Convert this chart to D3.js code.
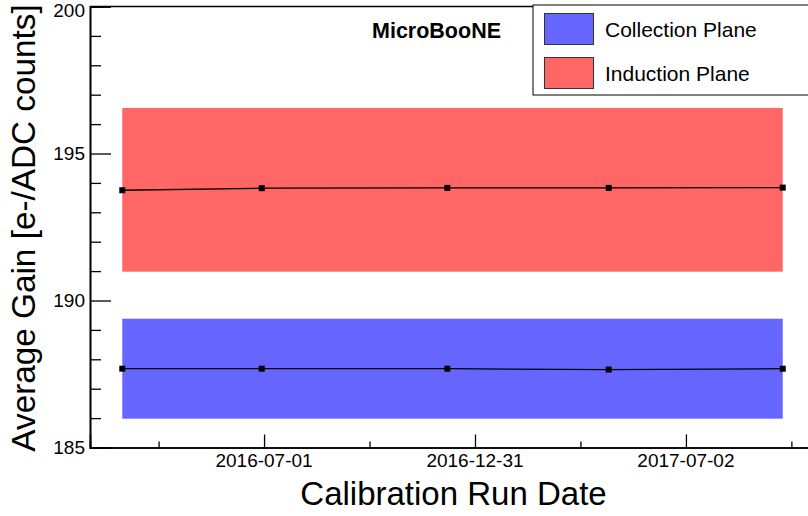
<!DOCTYPE html>
<html>
<head>
<meta charset="utf-8">
<script src="https://cdn.jsdelivr.net/npm/d3@7"></script>
<style>
  html, body { margin: 0; padding: 0; background: #fff; }
  svg { display: block; font-family: "Liberation Sans", Arial, Helvetica, sans-serif; }
</style>
</head>
<body>
<svg id="chart" width="808" height="516"></svg>
<script>
// ---- data ----
const runDates = ["2016-02-29", "2016-06-29", "2016-12-07", "2017-04-26", "2017-09-24"];
const collectionGain = [187.68, 187.68, 187.68, 187.65, 187.68];
const inductionGain = [193.75, 193.82, 193.83, 193.83, 193.84];
const collectionBand = [185.98, 189.38];
const inductionBand = [190.98, 196.55];
const xMajorTicks = ["2016-07-01", "2016-12-31", "2017-07-02"];
const xMinorTicks = ["2016-03-31T12:00", "2016-09-30T12:00", "2017-04-01T12:00", "2017-10-01T12:00"];
const yMajorTicks = [185, 190, 195, 200];
const yMinorTicks = [186, 187, 188, 189, 191, 192, 193, 194, 196, 197, 198, 199];
const xDomain = ["2016-02-01", "2017-11-04"];
const yDomain = [185, 200];
const seriesNames = ["Collection Plane", "Induction Plane"];
const seriesColors = ["#6666ff", "#ff6666"];

(function () {
const parse = s => new Date(s + (s.length === 10 ? "T00:00:00Z" : ":00Z"));

const svg = d3.select("#chart");
const pLeft = 90, pRight = 830, pTop = 6.5, pBottom = 447.5;

const x = d3.scaleUtc().domain(xDomain.map(parse)).range([pLeft, pRight]);
const y = d3.scaleLinear().domain(yDomain).range([pBottom, pTop]);

const dates = runDates.map(parse);

// bands
const bands = [
  { band: collectionBand, color: seriesColors[0] },
  { band: inductionBand, color: seriesColors[1] }
];
svg.append("g").selectAll("rect").data(bands).join("rect")
  .attr("x", x(d3.min(dates)))
  .attr("width", x(d3.max(dates)) - x(d3.min(dates)))
  .attr("y", d => y(d.band[1]))
  .attr("height", d => y(d.band[0]) - y(d.band[1]))
  .attr("fill", d => d.color);

// lines + markers
const series = [collectionGain, inductionGain];
const line = d3.line().x((d, i) => x(dates[i])).y(d => y(d));
series.forEach(vals => {
  svg.append("path").datum(vals)
    .attr("d", line)
    .attr("fill", "none")
    .attr("stroke", "#000")
    .attr("stroke-width", 1.3);
  svg.append("g").selectAll("rect").data(vals).join("rect")
    .attr("x", (d, i) => x(dates[i]) - 3)
    .attr("y", d => y(d) - 3)
    .attr("width", 6).attr("height", 6)
    .attr("fill", "#000");
});

// frame top
svg.append("line").attr("x1", pLeft).attr("x2", pRight).attr("y1", pTop).attr("y2", pTop)
  .attr("stroke", "#000").attr("stroke-width", 1.3);

// y axis
const yAxisMajor = d3.axisRight(y).tickValues(yMajorTicks).tickSize(21).tickFormat("");
const yAxisMinor = d3.axisRight(y).tickValues(yMinorTicks).tickSize(11).tickFormat("");
const gy = svg.append("g").attr("transform", `translate(${pLeft},0)`);
gy.call(yAxisMajor);
gy.append("g").call(yAxisMinor);
gy.selectAll(".domain").attr("stroke", "#000").attr("stroke-width", 1.6);
gy.selectAll(".tick line").attr("stroke", "#000").attr("stroke-width", 1.3);
svg.append("g").selectAll("text").data(yMajorTicks).join("text")
  .attr("x", pLeft - 5)
  .attr("y", d => Math.max(y(d), 10.5))
  .attr("dy", "0.36em")
  .attr("text-anchor", "end")
  .attr("font-size", 19)
  .attr("fill", "#000")
  .text(d => d);

// x axis
const xAxisMajor = d3.axisTop(x).tickValues(xMajorTicks.map(parse)).tickSize(13).tickFormat("");
const xAxisMinor = d3.axisTop(x).tickValues(xMinorTicks.map(parse)).tickSize(6).tickFormat("");
const gx = svg.append("g").attr("transform", `translate(0,${pBottom})`);
gx.call(xAxisMajor);
gx.append("g").call(xAxisMinor);
gx.selectAll(".domain").attr("stroke", "#000").attr("stroke-width", 1.6);
gx.selectAll(".tick line").attr("stroke", "#000").attr("stroke-width", 1.3);
svg.append("g").selectAll("text").data(xMajorTicks).join("text")
  .attr("x", d => x(parse(d)))
  .attr("y", 467)
  .attr("text-anchor", "middle")
  .attr("font-size", 19)
  .attr("fill", "#000")
  .text(d => d);

// axis titles
svg.append("text")
  .attr("transform", `translate(35,${(pTop + pBottom) / 2 + 1}) rotate(-90)`)
  .attr("text-anchor", "middle")
  .attr("font-size", 33.3)
  .attr("fill", "#000")
  .text("Average Gain [e-/ADC counts]");
svg.append("text")
  .attr("x", 453.5)
  .attr("y", 505)
  .attr("text-anchor", "middle")
  .attr("font-size", 33)
  .attr("fill", "#000")
  .text("Calibration Run Date");

// MicroBooNE label
svg.append("text")
  .attr("x", 372).attr("y", 38)
  .attr("font-size", 21.5)
  .attr("font-weight", "bold")
  .attr("fill", "#000")
  .text("MicroBooNE");

// legend
const lg = svg.append("g");
lg.append("rect").attr("x", 533).attr("y", 5).attr("width", 300).attr("height", 90)
  .attr("fill", "#fff").attr("stroke", "#000").attr("stroke-width", 1);
const items = lg.selectAll("g.item").data(seriesNames).join("g")
  .attr("class", "item")
  .attr("transform", (d, i) => `translate(0,${i * 44})`);
items.append("rect").attr("x", 544.5).attr("y", 13.5).attr("width", 49).attr("height", 31)
  .attr("fill", (d, i) => seriesColors[i]).attr("stroke", "#333").attr("stroke-width", 1);
items.append("text").attr("x", 605).attr("y", 37)
  .attr("font-size", 21).attr("fill", "#000")
  .text(d => d);
})();
</script>
</body>
</html>
